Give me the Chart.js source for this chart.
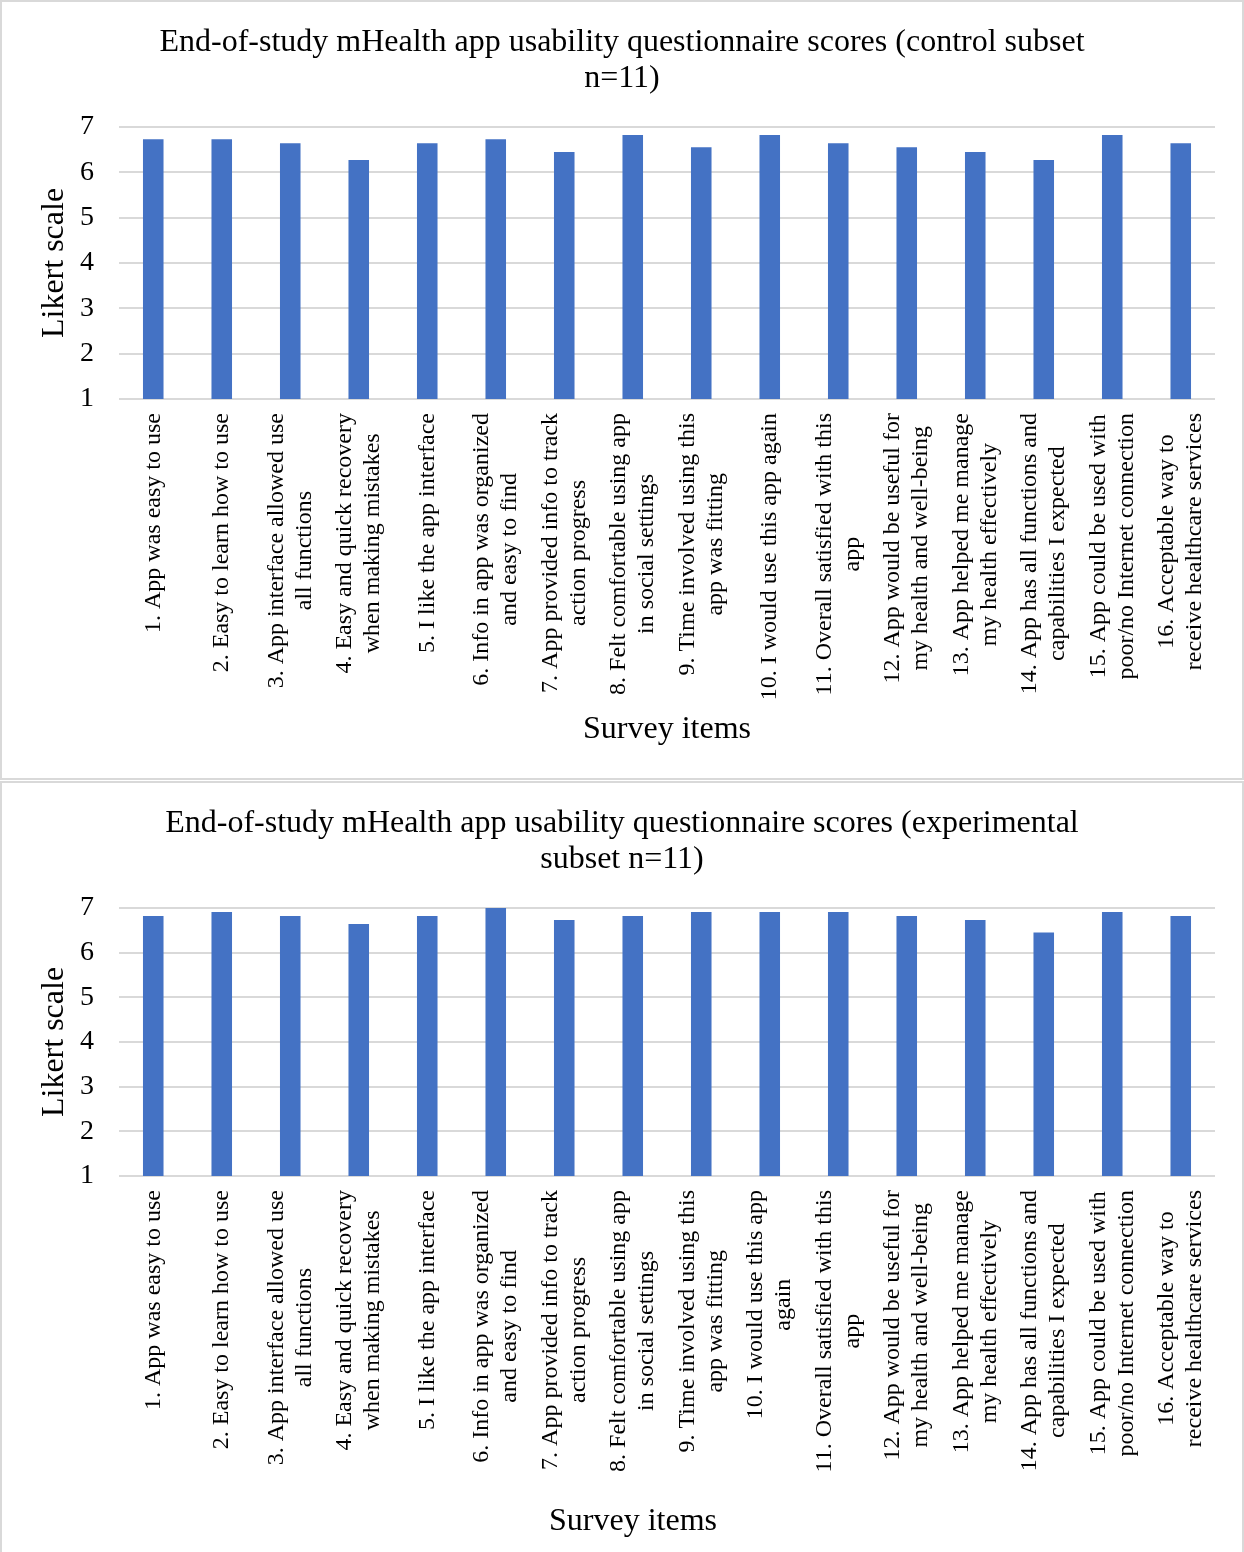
<!DOCTYPE html>
<html>
<head>
<meta charset="utf-8">
<title>mHealth app usability questionnaire scores</title>
<script src="https://cdn.jsdelivr.net/npm/chart.js@4.4.1/dist/chart.umd.min.js"></script>
<style>
  html, body { margin: 0; padding: 0; background: #fff; overflow: hidden; }
  .panel {
    position: absolute; left: 0; width: 1244px; height: 780px;
    box-sizing: border-box; border: 2px solid #d9d9d9; background: #fff;
  }
  .panel canvas { position: absolute; left: -2px; top: -2px; }
</style>
</head>
<body>
<div class="panel" style="top:0px"><canvas id="controlChart" width="1244" height="780"></canvas></div>
<div class="panel" style="top:781px"><canvas id="experimentalChart" width="1244" height="780"></canvas></div>

<script>
// Survey items (one array per chart, wrapped the way each chart shows them)
const controlItems = [
  ["1. App was easy to use"],
  ["2. Easy to learn how to use"],
  ["3. App interface allowed use", "all functions"],
  ["4. Easy and quick recovery", "when making mistakes"],
  ["5. I like the app interface"],
  ["6. Info in app was organized", "and easy to find"],
  ["7. App provided info to track", "action progress"],
  ["8. Felt comfortable using app", "in social settings"],
  ["9. Time involved using this", "app was fitting"],
  ["10. I would use this app again"],
  ["11. Overall satisfied with this", "app"],
  ["12. App would be useful for", "my health and well-being"],
  ["13. App helped me manage", "my health effectively"],
  ["14. App has all functions and", "capabilities I expected"],
  ["15. App could be used with", "poor/no Internet connection"],
  ["16. Acceptable way to", "receive healthcare services"]
];
const experimentalItems = [
  ["1. App was easy to use"],
  ["2. Easy to learn how to use"],
  ["3. App interface allowed use", "all functions"],
  ["4. Easy and quick recovery", "when making mistakes"],
  ["5. I like the app interface"],
  ["6. Info in app was organized", "and easy to find"],
  ["7. App provided info to track", "action progress"],
  ["8. Felt comfortable using app", "in social settings"],
  ["9. Time involved using this", "app was fitting"],
  ["10. I would use this app", "again"],
  ["11. Overall satisfied with this", "app"],
  ["12. App would be useful for", "my health and well-being"],
  ["13. App helped me manage", "my health effectively"],
  ["14. App has all functions and", "capabilities I expected"],
  ["15. App could be used with", "poor/no Internet connection"],
  ["16. Acceptable way to", "receive healthcare services"]
];

// Mean Likert scores (n=11 per subset)
const controlScores = [6.73, 6.73, 6.64, 6.27, 6.64, 6.73, 6.45, 6.82, 6.55, 6.82, 6.64, 6.55, 6.45, 6.27, 6.82, 6.64];
const experimentalScores = [6.82, 6.91, 6.82, 6.64, 6.82, 7.00, 6.73, 6.82, 6.91, 6.91, 6.91, 6.82, 6.73, 6.45, 6.91, 6.82];

// Likert axis range
const likertMin = 1;
const likertMax = 7;

const controlTitle = ["End-of-study mHealth app usability questionnaire scores (control subset", "n=11)"];
const experimentalTitle = ["End-of-study mHealth app usability questionnaire scores (experimental", "subset n=11)"];
const yAxisTitle = "Likert scale";
const xAxisTitle = "Survey items";

const SERIF = "'Liberation Serif', 'Times New Roman', serif";
const BAR_BLUE = "#4472C4";
const GRID_GREY = "#d9d9d9";

// Draws the wrapped category labels turned 90° (each line centred on the
// longest one) and the horizontal axis title underneath them.
const verticalCategoryLabels = {
  id: "verticalCategoryLabels",
  afterDraw(chart, args, opts) {
    const xs = chart.scales.x;
    const area = chart.chartArea;
    const ctx = chart.ctx;
    ctx.save();
    ctx.fillStyle = "#000";
    ctx.textAlign = "center";
    ctx.textBaseline = "middle";
    ctx.font = opts.fontSize + "px " + SERIF;
    chart.data.labels.forEach((label, i) => {
      const lines = Array.isArray(label) ? label : [label];
      const px = xs.getPixelForTick(i);
      const widest = Math.max(...lines.map(l => ctx.measureText(l).width));
      const cy = area.bottom + opts.gap + widest / 2;
      lines.forEach((line, k) => {
        const cx = px + (k - (lines.length - 1) / 2) * opts.lineSpacing;
        ctx.save();
        ctx.translate(cx, cy);
        ctx.rotate(-Math.PI / 2);
        ctx.fillText(line, 0, 0);
        ctx.restore();
      });
    });
    ctx.font = opts.titleSize + "px " + SERIF;
    ctx.fillText(opts.title, (area.left + area.right) / 2 + opts.titleShift, opts.titleY);
    ctx.restore();
  }
};

function buildChart(canvasId, items, scores, titleLines, axisCfg) {
  return new Chart(document.getElementById(canvasId), {
    type: "bar",
    data: {
      labels: items,
      datasets: [{
        data: scores,
        backgroundColor: BAR_BLUE,
        borderWidth: 0,
        categoryPercentage: 1.0,
        barPercentage: 0.30
      }]
    },
    options: {
      responsive: false,
      animation: false,
      devicePixelRatio: 1,
      layout: { padding: { left: 29, right: 29, top: 0, bottom: 0 } },
      plugins: {
        legend: { display: false },
        tooltip: { enabled: false },
        title: {
          display: true,
          text: titleLines,
          color: "#000",
          font: { family: SERIF, size: 32, weight: "normal", lineHeight: 1.14 },
          padding: { top: 24, bottom: 30 }
        },
        verticalCategoryLabels: {
          fontSize: 24,
          lineSpacing: 28,
          gap: axisCfg.labelGap,
          title: xAxisTitle,
          titleSize: 32,
          titleShift: axisCfg.titleShift,
          titleY: axisCfg.titleY
        }
      },
      scales: {
        x: {
          grid: { display: false },
          border: { display: false },
          ticks: { display: false },
          afterFit(scale) { scale.height = axisCfg.xAxisHeight; }
        },
        y: {
          min: likertMin,
          max: likertMax,
          ticks: {
            stepSize: 1,
            padding: 25,
            color: "#000",
            font: { family: SERIF, size: 28 }
          },
          grid: { color: GRID_GREY, lineWidth: 2, drawTicks: false },
          border: { display: false },
          title: {
            display: true,
            text: yAxisTitle,
            color: "#000",
            font: { family: SERIF, size: 32 },
            padding: { top: 6, bottom: 0 }
          },
          afterFit(scale) { scale.width = 90; }
        }
      }
    },
    plugins: [verticalCategoryLabels]
  });
}

buildChart("controlChart", controlItems, controlScores, controlTitle,
  { xAxisHeight: 381, labelGap: 14, titleShift: 0, titleY: 730 });
buildChart("experimentalChart", experimentalItems, experimentalScores, experimentalTitle,
  { xAxisHeight: 385, labelGap: 14, titleShift: -34, titleY: 741 });
</script>
</body>
</html>
